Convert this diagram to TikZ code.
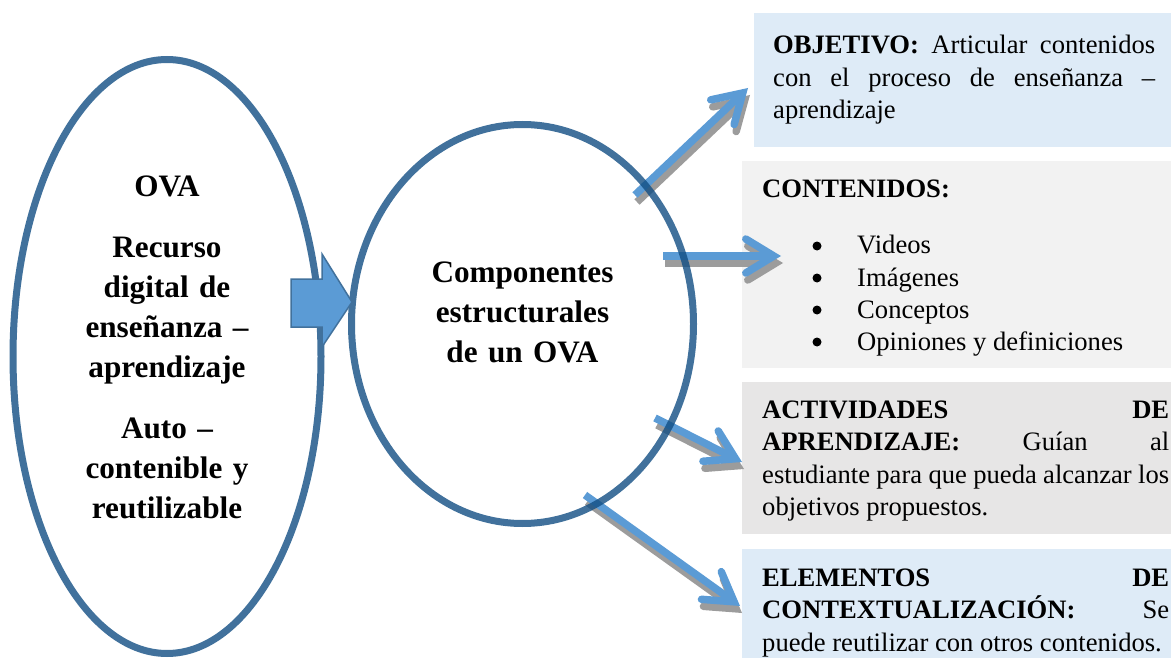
\documentclass[tikz,border=0pt]{standalone}
\usepackage{fontspec}
\setmainfont{Liberation Serif}
\usetikzlibrary{shapes.geometric,arrows.meta}

\definecolor{ovaline}{HTML}{124E83}
\definecolor{ovablue}{HTML}{5B9BD5}
\definecolor{arrowline}{HTML}{41719C}
\definecolor{boxblue}{HTML}{DEEBF7}
\definecolor{boxgray}{HTML}{F2F2F2}
\definecolor{boxdark}{HTML}{E7E6E6}
\definecolor{shadowgray}{HTML}{9C9C9C}

\tikzset{
    oval/.style={ellipse, draw=ovaline, draw opacity=0.8, line width=7pt, inner sep=0pt},
    card/.style={anchor=north west, inner sep=0pt},
    heading/.style={anchor=base, inner sep=0pt, text width=300pt, align=center,
        font=\bfseries\fontsize{31.2}{40}\selectfont},
    bodytext/.style={anchor=base west, inner sep=0pt, text width=#1, align=justify,
        font=\fontsize{26.6}{32.5}\selectfont},
    bullet item/.style={anchor=base west, inner sep=0pt, font=\fontsize{26.6}{32}\selectfont},
    link/.style={ovablue, line width=7.5pt,
        -{Straight Barb[length=28pt,width=34pt,line cap=round,line join=miter]}},
    link shadow/.style={link, shadowgray, transform canvas={shift={(2pt,-7pt)}}},
    block arrow/.style={fill=ovablue, draw=arrowline, line width=1.5pt, line join=miter},
}

\begin{document}
\begin{tikzpicture}[x=1pt,y=-1pt]
    \useasboundingbox (0,0) rectangle (1171,658);

    % boxes on the right
    \node[card, fill=boxblue, minimum width=417pt, minimum height=134pt] (obj) at (754,13) {};
    \node[card, fill=boxgray, minimum width=429pt, minimum height=207pt] (cont) at (742,161) {};
    \node[card, fill=boxdark, minimum width=429pt, minimum height=152pt] (act) at (742,382) {};
    \node[card, fill=boxblue, minimum width=429pt, minimum height=109pt] (elem) at (742,549) {};

    \node[bodytext=382pt] (objtext) at (773,54)
        {\textbf{OBJETIVO:} Articular contenidos\linebreak con el proceso de enseñanza –\linebreak aprendizaje};
    \node[bullet item] (conttitle) at (762,197) {\textbf{CONTENIDOS:}};
    \foreach \txt [count=\i] in {Videos, Imágenes, Conceptos, Opiniones y definiciones} {
        \fill (817,214+32*\i) circle (4.5);
        \node[bullet item] (item\i) at (857,222+32*\i) {\txt};
    }
    \node[bodytext=407pt] (acttext) at (762,418)
        {\textbf{ACTIVIDADES DE}\linebreak \textbf{APRENDIZAJE:} Guían al\linebreak estudiante para que pueda alcanzar los\linebreak objetivos propuestos.};
    \node[bodytext=407pt] (elemtext) at (762,586)
        {\textbf{ELEMENTOS DE}\linebreak \textbf{CONTEXTUALIZACIÓN:} Se\linebreak puede reutilizar con otros contenidos.};

    % arrows from the ellipse to the boxes
    \coordinate (t1) at (635,195); \coordinate (h1) at (748,88);
    \coordinate (t2) at (663,256); \coordinate (h2) at (781,256);
    \coordinate (t3) at (655,418); \coordinate (h3) at (742,462);
    \coordinate (t4) at (585,495); \coordinate (h4) at (740,606);
    \foreach \a/\b in {t1/h1, t2/h2, t3/h3, t4/h4} {
        \draw[link shadow] (\a) -- (\b);
        \draw[link] (\a) -- (\b);
    }

    % the two ellipses
    \node[oval, minimum width=308pt, minimum height=594pt] (ova) at (167,356.5) {};
    \node[oval, minimum width=342pt, minimum height=399pt] (comp) at (522.5,324) {};
    \node[heading] (ovatext) at (167,196.5)
        {OVA\\[21pt] Recurso\\ digital de\\ enseñanza –\\ aprendizaje\\[21pt] Auto –\\ contenible y\\ reutilizable};
    \node[heading] (comptext) at (522.5,282.5) {Componentes\\ estructurales\\ de un OVA};

    % block arrow between them
    \draw[block arrow] (291,279) -- (322,279) -- (322,254) -- (352,302) -- (322,347)
        -- (322,327) -- (291,327) -- cycle;
\end{tikzpicture}
\end{document}
